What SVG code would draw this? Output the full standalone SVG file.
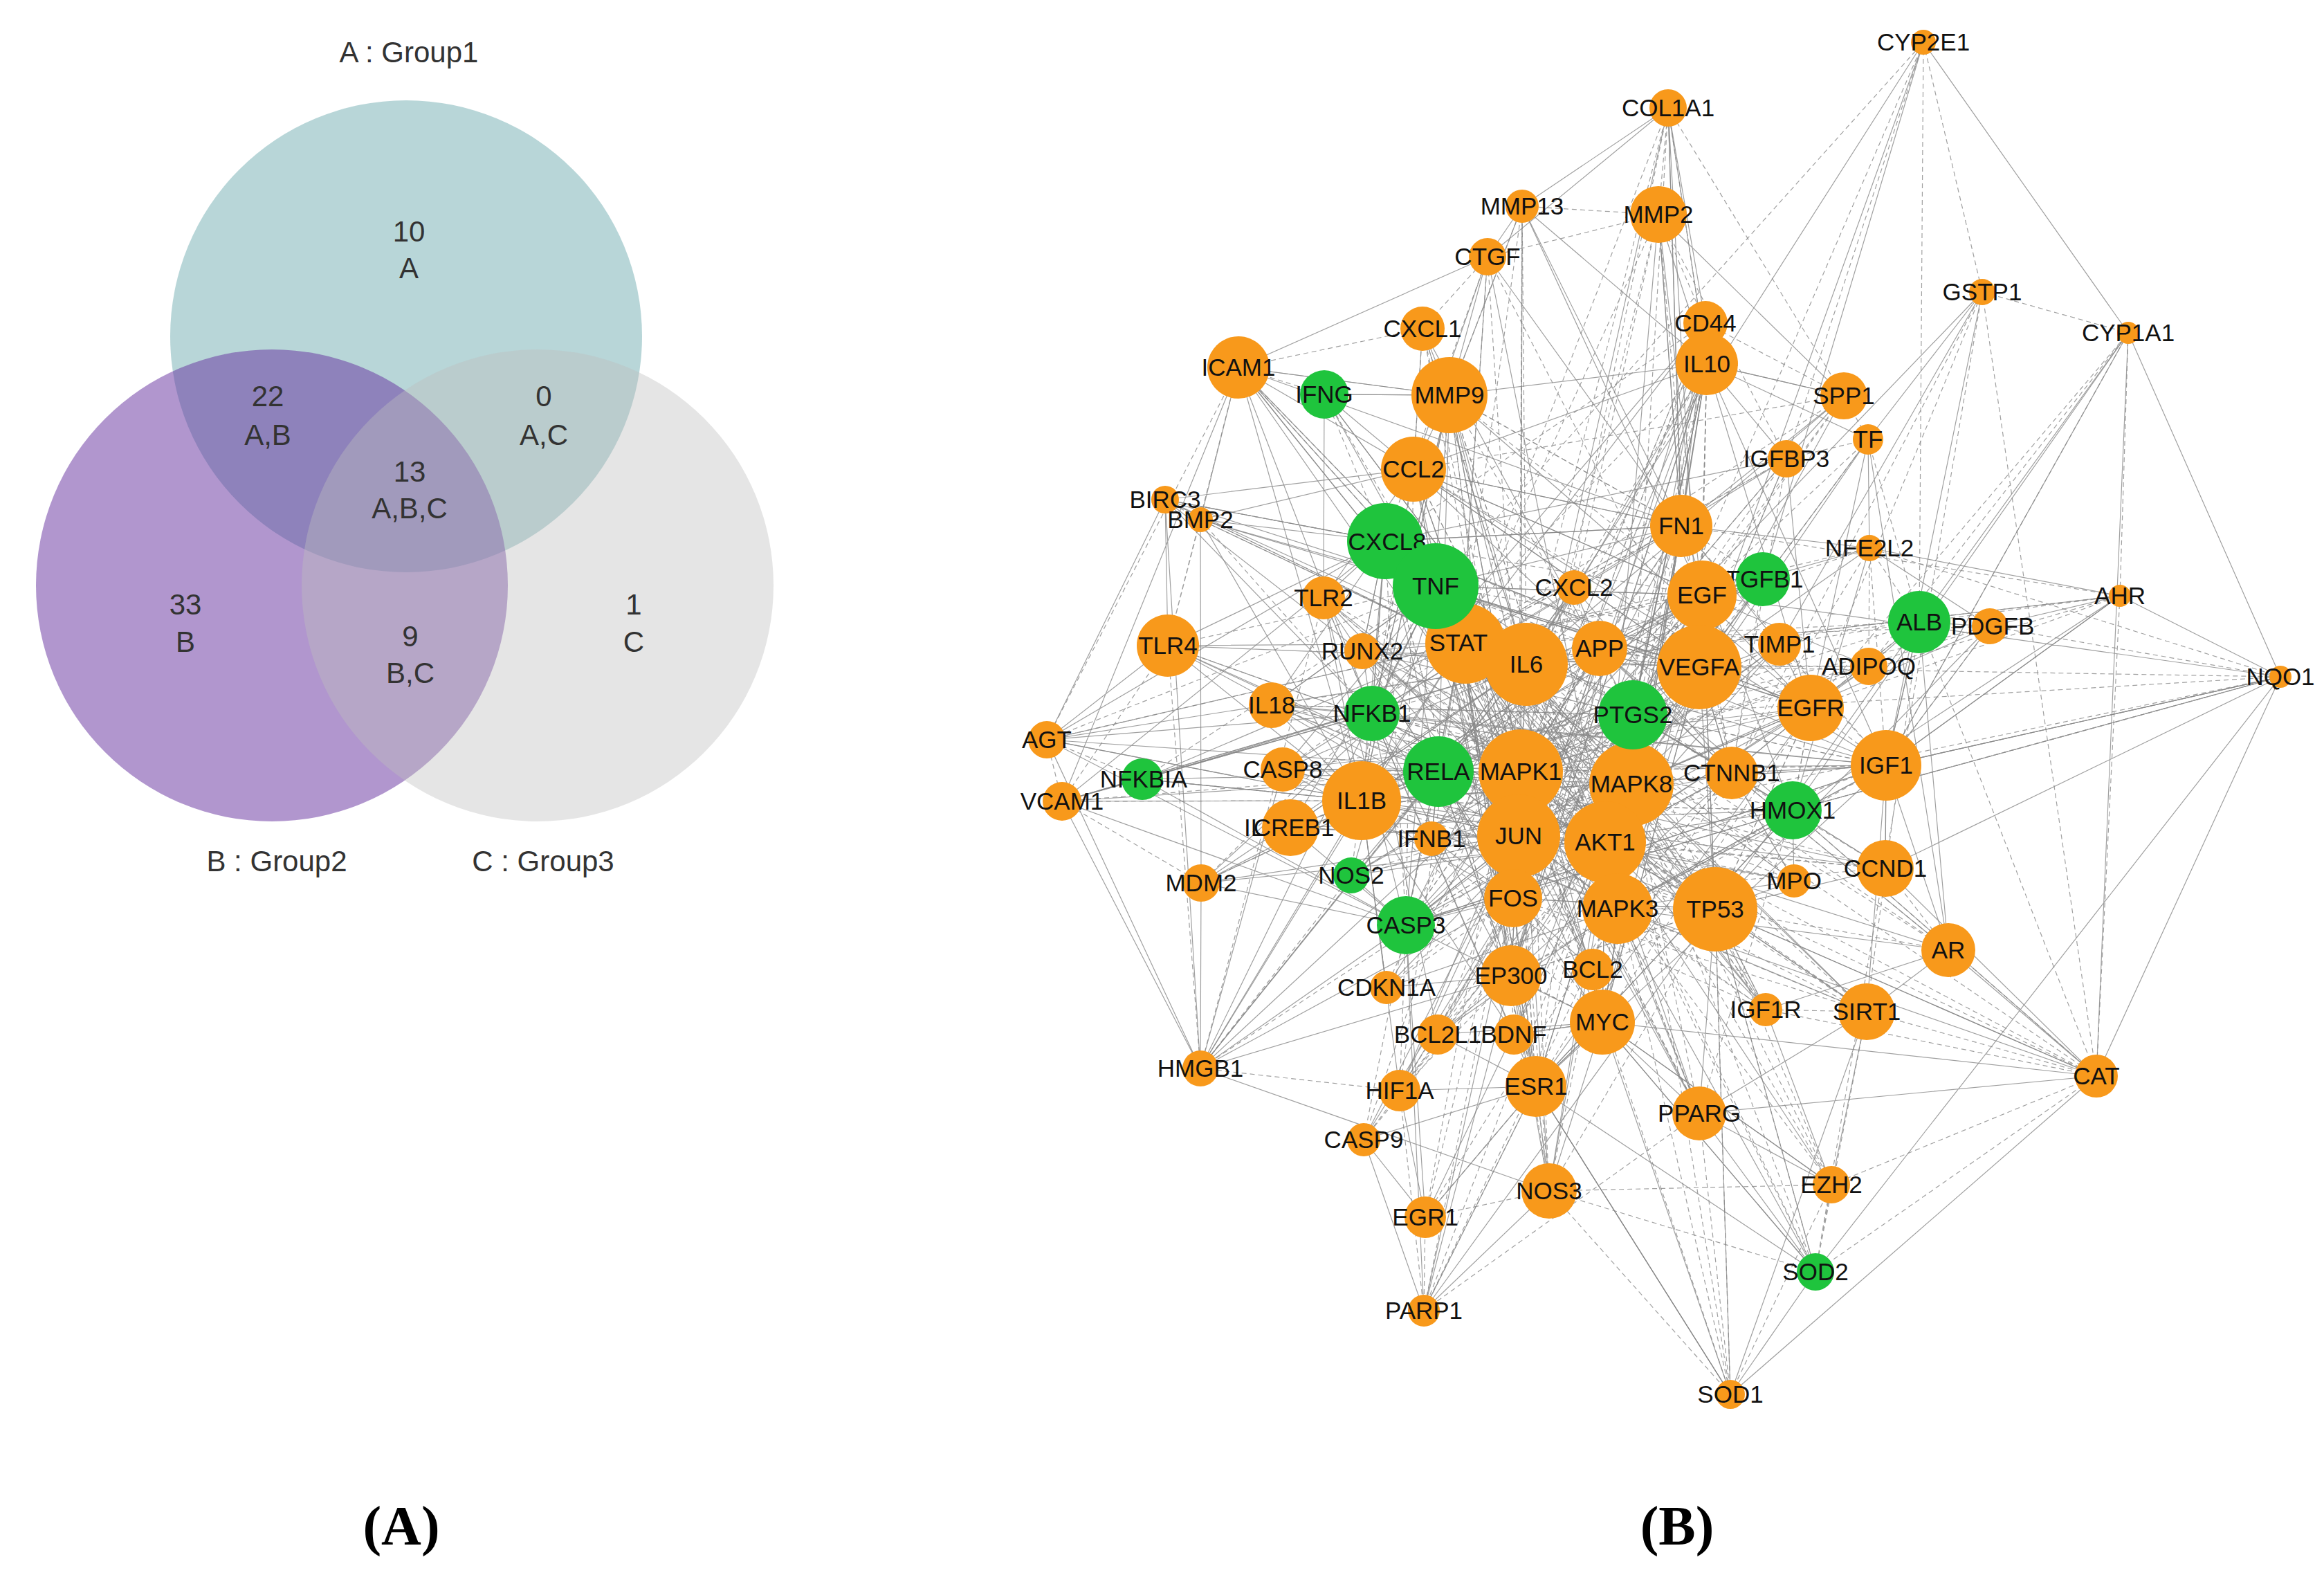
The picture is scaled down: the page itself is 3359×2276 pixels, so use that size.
<svg xmlns="http://www.w3.org/2000/svg" width="3359" height="2276" viewBox="0 0 3359 2276">
<style>
.vt{font-family:"Liberation Sans",Arial,sans-serif;font-size:42px;fill:#333;text-anchor:middle}
.cap{font-family:"Liberation Serif","Times New Roman",serif;font-size:80px;font-weight:bold;fill:#000;text-anchor:middle}
.e1{fill:none;stroke:#888;stroke-width:1.2;stroke-opacity:0.8}
.e2{fill:none;stroke:#888;stroke-width:1.2;stroke-opacity:0.8;stroke-dasharray:7 5}
.o{fill:#f8991b}
.g{fill:#1fc43d}
.lb{font-family:"Liberation Sans",Arial,sans-serif;font-size:35px;fill:#111;text-anchor:middle}
</style>
<rect width="3359" height="2276" fill="#fff"/>
<g id="venn">
<circle cx="587" cy="486" r="341" fill="#71adb1" fill-opacity="0.5"/>
<circle cx="393" cy="846" r="341" fill="#632d9d" fill-opacity="0.5"/>
<circle cx="777" cy="846" r="341" fill="#bebebe" fill-opacity="0.4"/>
<text class="vt" x="591" y="90">A : Group1</text>
<text class="vt" x="591" y="349">10</text><text class="vt" x="591" y="402">A</text>
<text class="vt" x="387" y="587">22</text><text class="vt" x="387" y="643">A,B</text>
<text class="vt" x="786" y="587">0</text><text class="vt" x="786" y="643">A,C</text>
<text class="vt" x="592" y="696">13</text><text class="vt" x="592" y="749">A,B,C</text>
<text class="vt" x="268" y="888">33</text><text class="vt" x="268" y="942">B</text>
<text class="vt" x="593" y="934">9</text><text class="vt" x="593" y="987">B,C</text>
<text class="vt" x="916" y="888">1</text><text class="vt" x="916" y="942">C</text>
<text class="vt" x="400" y="1259">B : Group2</text>
<text class="vt" x="785" y="1259">C : Group3</text>
</g>
<g id="edges">
<path class="e1" d="M2206,960 L2075,847 2320,1217 2195,1208 2198,1115 2358,1133 2338,1313 2479,1314 2456,964 2112,930 1968,1157 2002,782 2360,1033 2079,1115 2460,860 2316,1477 2032,1337 2095,571 2617,1023 2467,526 2187,1298 2043,678 2220,1570 2726,1106 1983,1031 2503,1117 2184,1410 2312,937 2430,760 2591,1171"/>
<path class="e1" d="M2206,960 L2320,1217 2198,1115 2338,1313 2456,964 1968,1157 2360,1033 2460,860 2032,1337 2617,1023 2187,1298 2220,1570 1983,1031 2184,1410 2430,760 2075,847 2195,1208 2358,1133 2479,1314 2112,930 2002,782 2079,1115 2316,1477 2095,571 2467,526 2043,678 2726,1106 2503,1117 2312,937 2591,1171"/>
<path class="e2" d="M2206,960 L2195,1208 2338,1313 2112,930 2360,1033 2316,1477 2617,1023 2043,678 1983,1031 2312,937 2075,847 2198,1115 2479,1314 1968,1157 2079,1115 2032,1337 2467,526 2220,1570 2503,1117 2430,760 2320,1217 2358,1133 2456,964 2002,782 2460,860 2095,571 2187,1298 2726,1106 2184,1410 2591,1171"/>
<path class="e1" d="M2206,960 L2198,1115 2456,964 2360,1033 2032,1337 2187,1298 1983,1031 2430,760 2195,1208 2479,1314 2002,782 2316,1477 2467,526 2726,1106 2312,937 2320,1217 2338,1313 1968,1157 2460,860 2617,1023 2220,1570 2184,1410 2075,847 2358,1133 2112,930 2079,1115 2095,571 2043,678 2503,1117 2591,1171"/>
<path class="e2" d="M2206,960 L2358,1133 1968,1157 2316,1477 2187,1298 2503,1117 2075,847 2338,1313 2002,782 2032,1337 2043,678 2184,1410 2320,1217 2479,1314 2360,1033 2095,571 2220,1570 2312,937 2195,1208 2456,964 2079,1115 2617,1023 2726,1106 2430,760 2198,1115 2112,930 2460,860 2467,526 1983,1031 2591,1171"/>
<path class="e1" d="M2206,960 L2479,1314 2460,860 2043,678 2430,760 2358,1133 2360,1033 2467,526 2184,1410 2195,1208 1968,1157 2095,571 1983,1031 2075,847 2456,964 2316,1477 2220,1570 2591,1171 2338,1313 2079,1115 2187,1298 2312,937 2198,1115 2002,782 2617,1023 2503,1117 2320,1217 2112,930 2032,1337 2726,1106"/>
<path class="e2" d="M2206,960 L2002,782 2220,1570 2195,1208 2460,860 2503,1117 2338,1313 2095,571 2430,760 2112,930 2187,1298 2075,847 2360,1033 2726,1106 2198,1115 2316,1477 2184,1410 2479,1314 2617,1023 2591,1171 1968,1157 2043,678 2320,1217 2079,1115 1983,1031 2358,1133 2032,1337 2312,937 2456,964 2467,526"/>
<path class="e1" d="M2206,960 L2079,1115 2184,1410 2112,930 2220,1570 2358,1133 2617,1023 2075,847 2460,860 2312,937 1968,1157 2726,1106 2338,1313 2467,526 2320,1217 2316,1477 2430,760 2002,782 1983,1031 2479,1314 2187,1298 2195,1208 2032,1337 2591,1171 2360,1033 2503,1117 2456,964 2043,678 2198,1115 2095,571"/>
<path class="e1" d="M2206,960 L2095,571 2198,1115 2043,678 2456,964 2503,1117 2360,1033 2591,1171 2032,1337 2195,1208 2187,1298 2479,1314 1983,1031 2002,782 2430,760 2316,1477 2320,1217 2467,526 2338,1313 2726,1106 1968,1157 2312,937 2460,860 2075,847 2617,1023 2358,1133 2220,1570 2112,930 2184,1410 2079,1115"/>
<path class="e2" d="M2206,960 L2467,526 2456,964 2312,937 2032,1337 2358,1133 1983,1031 2079,1115 2320,1217 2043,678 1968,1157 2591,1171 2617,1023 2479,1314 2184,1410 2316,1477 2198,1115 2726,1106 2360,1033 2075,847 2187,1298 2112,930 2430,760 2095,571 2338,1313 2503,1117 2460,860 2195,1208 2220,1570 2002,782"/>
<path class="e1" d="M2206,960 L2726,1106 2032,1337 2112,930 2320,1217 2503,1117 2617,1023 2002,782 2198,1115 2312,937 2187,1298 2079,1115 2338,1313 2591,1171 2220,1570 2316,1477 2456,964 2075,847 1983,1031 2095,571 1968,1157 2195,1208 2184,1410 2467,526 2360,1033 2358,1133 2430,760 2043,678 2460,860 2479,1314"/>
<path class="e1" d="M2206,960 L2780,61 2456,964 2411,156 2198,1115 2200,298 2460,860 2397,310 2320,1217 2150,371 2112,930 2465,467 2360,1033 2056,475 2206,960 2665,572 2358,1133 2700,635 2617,1023 2582,663 2198,1115 2865,422 2726,1106 3076,481 2591,1171 2702,792 2456,964 2548,837 2206,960 3064,861 2726,1106 2774,899 2479,1314 2876,905 2358,1133 2572,931 2320,1217 2701,963 2460,860 3296,978 2726,1106 2725,1255 2479,1314 2593,1273 2338,1313 2816,1373 2320,1217 2552,1459 2358,1133 2698,1462 2479,1314 3030,1555 2338,1313 2456,1609 2320,1217 2647,1712 2316,1477 2624,1838 2479,1314 2501,2015 2220,1570 2239,1721 2320,1217 2060,1759 2032,1337 2058,1894 2187,1298 1971,1647 2195,1208 2023,1576 1968,1157 2188,1495 2316,1477 2078,1495 2338,1313 2004,1427 2198,1115 2302,1401 2195,1208 2069,1212 2079,1115 2275,849 2206,960 1735,1544 1968,1157 1736,1276 2079,1115 1953,1265 2075,847 1865,1196 2206,960 1535,1158 1983,1031 1651,1126 1968,1157 1513,1069 2206,960 1854,1112 2075,847 1838,1019 2198,1115 1969,941 2112,930 1688,933 2079,1115 1913,864 1968,1157 1735,751 2075,847 1684,722 2206,960 1914,570 2112,930 1790,531 2075,847"/>
<path class="e2" d="M2075,847 L2780,61 2360,1033 2411,156 2206,960 2200,298 2112,930 2397,310 2456,964 2150,371 2002,782 2465,467 2198,1115 2056,475 2043,678 2665,572 2460,860 2700,635 2456,964 2582,663 2503,1117 2865,422 2617,1023 3076,481 2726,1106 2702,792 2503,1117 2548,837 2430,760 3064,861 2617,1023 2774,899 2360,1033 2876,905 2726,1106 2572,931 2198,1115 2701,963 2456,964 3296,978 2591,1171 2725,1255 2320,1217 2593,1273 2503,1117 2816,1373 2479,1314 2552,1459 2338,1313 2698,1462 2320,1217 3030,1555 2591,1171 2456,1609 2358,1133 2647,1712 2479,1314 2624,1838 2320,1217 2501,2015 2479,1314 2239,1721 2195,1208 2060,1759 2220,1570 2058,1894 2320,1217 1971,1647 2032,1337 2023,1576 2184,1410 2188,1495 2195,1208 2078,1495 2187,1298 2004,1427 1968,1157 2302,1401 2479,1314 2069,1212 2206,960 2275,849 2358,1133 1735,1544 2079,1115 1736,1276 1983,1031 1953,1265 2195,1208 1865,1196 2079,1115 1535,1158 1968,1157 1651,1126 2075,847 1513,1069 2112,930 1854,1112 2079,1115 1838,1019 2206,960 1969,941 2075,847 1688,933 2198,1115 1913,864 1983,1031 1735,751 2112,930 1684,722 2002,782 1914,570 2075,847 1790,531 2206,960"/>
<path class="e1" d="M2043,678 L1790,531 2206,960 1914,570 2095,571 1790,531 2198,1115 1688,933 2320,1217 1684,722 2112,930 1735,751 2456,964 1688,933 2195,1208 1969,941 2360,1033 1838,1019 2320,1217 1854,1112 2198,1115 1651,1126 2112,930 1513,1069 2198,1115 1535,1158 2206,960 1865,1196 2320,1217 1736,1276 2195,1208 1953,1265 2198,1115 1735,1544 2075,847 1838,1019 2002,782 1688,933 1968,1157 1790,531 1983,1031 1913,864 2032,1337 1513,1069 2002,782 1535,1158 2032,1337 1651,1126 2206,960 1736,1276 2112,930 1735,1544 2187,1298 1854,1112 2358,1133 1969,941 2002,782 1684,722 1983,1031 1790,531 2112,930"/>
<path class="e2" d="M2195,1208 L2058,1894 2338,1313 2060,1759 2206,960 1971,1647 2358,1133 2023,1576 2112,930 2239,1721 2206,960 2647,1712 2198,1115 2501,2015 2358,1133 2624,1838 2206,960 2456,1609 2112,930 3030,1555 2198,1115 2698,1462 2195,1208 2552,1459 2206,960 2816,1373 2112,930 2593,1273 2198,1115 2725,1255 2195,1208 3296,978 2360,1033 2701,963 2206,960 2774,899 2112,930 2876,905 2198,1115 2572,931 2195,1208 2548,837 2112,930 2702,792 2206,960 3064,861 2198,1115 2465,467 2195,1208 2665,572 2112,930 2582,663 2198,1115 2397,310 2195,1208 2411,156 2112,930 2150,371 2198,1115 2200,298 2195,1208 2056,475 2206,960"/>
<path class="e1" d="M2467,526 L2465,467 2430,760 2397,310 2467,526 2411,156 2430,760 2665,572 2467,526 2700,635 2456,964 2582,663 2467,526 2200,298 2095,571 2150,371 2043,678 2056,475 2095,571 1914,570 2043,678 1735,751 2002,782 1684,722 2043,678 1913,864 2002,782 1969,941 1983,1031 1838,1019 1968,1157 1854,1112 1983,1031 1651,1126 1968,1157 1535,1158 1983,1031 1513,1069 1968,1157 1865,1196 2032,1337 1953,1265 2032,1337 1736,1276 2032,1337 1735,1544 2184,1410 2004,1427 2184,1410 2078,1495 2220,1570 2023,1576 2220,1570 1971,1647 2220,1570 2060,1759 2220,1570 2058,1894 2184,1410 2239,1721 2316,1477 2188,1495 2316,1477 2302,1401 2187,1298 2069,1212 2079,1115 2275,849 2312,937 2548,837 2460,860 2702,792 2430,760 2572,931 2617,1023 2701,963 2617,1023 2774,899 2726,1106 2876,905 2726,1106 3064,861 2591,1171 3296,978 2726,1106 2725,1255 2591,1171 2593,1273 2503,1117 2816,1373 2726,1106 2698,1462 2479,1314 2552,1459 2479,1314 2456,1609 2316,1477 2647,1712 2316,1477 2624,1838 2220,1570 2501,2015 2316,1477 3030,1555 2479,1314"/>
<path class="e1" d="M2312,937 L1968,1157 2004,1427 2456,964 1969,941 2479,1314 1913,864 2338,1313 1838,1019 2726,1106 1854,1112 2617,1023 1865,1196 2591,1171 1953,1265 2360,1033 2188,1495 1983,1031 2078,1495 2460,860 2023,1576 2467,526 2069,1212 2503,1117 2275,849 2032,1337 2572,931 2079,1115 2725,1255 1968,1157 2593,1273 2112,930 2302,1401 2002,782 2582,663 1983,1031 2465,467 2184,1410 2548,837 1968,1157 2698,1462 2075,847 2552,1459 2002,782 2456,1609 2198,1115 2239,1721 2360,1033"/>
<path class="e2" d="M2275,849 L2198,1115 2312,937 2079,1115 2069,1212 2358,1133 2302,1401 2075,847 2572,931 2195,1208 2593,1273 2206,960 2004,1427 2358,1133 2188,1495 2456,964 2078,1495 2320,1217 2023,1576 2360,1033 2725,1255 2187,1298 2548,837 2112,930 2582,663 2195,1208 2465,467 2358,1133 1953,1265 2456,964 1865,1196 2320,1217 1854,1112 2360,1033 1838,1019 2358,1133 1913,864 2320,1217 1969,941 2187,1298 2552,1459 2206,960 2456,1609 2112,930 2698,1462 2187,1298 2239,1721 2358,1133"/>
<path class="e2" d="M2780,61L2865,422 M2780,61L2774,899 M2780,61L2582,663 M2865,422L3076,481 M2865,422L3030,1555 M2865,422L2624,1838 M3076,481L3064,861 M3076,481L2701,963 M3064,861L2774,899 M3064,861L3030,1555 M3296,978L2876,905 M3296,978L2591,1171 M3296,978L2702,792 M3030,1555L2698,1462 M3030,1555L2552,1459 M3030,1555L2624,1838 M3030,1555L2647,1712 M3030,1555L2774,899 M2501,2015L2456,1609 M2501,2015L2239,1721 M2501,2015L2647,1712 M2624,1838L2647,1712 M2624,1838L2698,1462 M2624,1838L2239,1721 M2647,1712L2239,1721 M2058,1894L2060,1759 M2058,1894L2023,1576 M2058,1894L2456,1609 M2060,1759L2239,1721 M1735,1544L1688,933 M1735,1544L1913,864 M1735,1544L1953,1265 M1735,1544L2023,1576 M2411,156L2397,310 M2411,156L2665,572 M2411,156L2467,526 M2200,298L2397,310 M2200,298L2095,571 M2150,371L2056,475 M2150,371L2397,310 M2397,310L2465,467 M2397,310L2582,663 M1790,531L1914,570 M1790,531L1688,933 M1790,531L2056,475 M1513,1069L1535,1158 M1513,1069L1651,1126 M1513,1069L1790,531 M1535,1158L1736,1276 M1535,1158L1688,933 M1684,722L1735,751 M1735,751L1688,933 M2665,572L2700,635 M2665,572L2465,467 M2700,635L2582,663 M2700,635L2774,899 M2702,792L2774,899 M2702,792L2701,963 M2774,899L2572,931 M2774,899L2698,1462 M2816,1373L2725,1255 M2698,1462L2552,1459"/>
<path class="e1" d="M2780,61L3076,481 M2780,61L2548,837 M2865,422L2700,635 M2865,422L2572,931 M3076,481L3296,978 M3076,481L3030,1555 M3076,481L2774,899 M3064,861L3296,978 M3064,861L2876,905 M3064,861L2702,792 M3296,978L3030,1555 M3296,978L2726,1106 M3296,978L2725,1255 M3296,978L2624,1838 M3030,1555L2816,1373 M3030,1555L2456,1609 M3030,1555L2501,2015 M3030,1555L2591,1171 M3030,1555L2725,1255 M2501,2015L2624,1838 M2501,2015L2698,1462 M2501,2015L2220,1570 M2624,1838L2456,1609 M2624,1838L2075,847 M2647,1712L2456,1609 M2647,1712L2698,1462 M2647,1712L2552,1459 M2058,1894L1971,1647 M2058,1894L2479,1314 M2058,1894L2239,1721 M2060,1759L1971,1647 M2060,1759L2023,1576 M1735,1544L2239,1721 M1735,1544L1736,1276 M1735,1544L2079,1115 M1735,1544L1854,1112 M2411,156L2150,371 M2411,156L2465,467 M2411,156L2200,298 M2411,156L2430,760 M2200,298L2150,371 M2200,298L2430,760 M2150,371L1790,531 M2150,371L2430,760 M2397,310L2665,572 M2397,310L2430,760 M1790,531L1535,1158 M1790,531L1735,751 M1790,531L2095,571 M1790,531L2430,760 M1513,1069L1688,933 M1513,1069L1684,722 M1513,1069L1735,1544 M1535,1158L1651,1126 M1535,1158L1735,1544 M1684,722L1688,933 M1684,722L1735,1544 M1735,751L1736,1276 M2665,572L2582,663 M2665,572L2467,526 M2700,635L2702,792 M2700,635L2816,1373 M2702,792L2876,905 M2774,899L2876,905 M2774,899L2701,963 M2774,899L2816,1373 M2816,1373L2698,1462 M2816,1373L2552,1459 M2698,1462L2456,1609 M1914,570L1913,864"/>
</g>
<g id="nodes">
<g id="n-CYP2E1"><circle class="o" cx="2780" cy="61" r="18"/><text class="lb" x="2780" y="73">CYP2E1</text></g>
<g id="n-COL1A1"><circle class="o" cx="2411" cy="156" r="27"/><text class="lb" x="2411" y="168">COL1A1</text></g>
<g id="n-MMP13"><circle class="o" cx="2200" cy="298" r="24"/><text class="lb" x="2200" y="310">MMP13</text></g>
<g id="n-MMP2"><circle class="o" cx="2397" cy="310" r="41"/><text class="lb" x="2397" y="322">MMP2</text></g>
<g id="n-CTGF"><circle class="o" cx="2150" cy="371" r="27"/><text class="lb" x="2150" y="383">CTGF</text></g>
<g id="n-GSTP1"><circle class="o" cx="2865" cy="422" r="19"/><text class="lb" x="2865" y="434">GSTP1</text></g>
<g id="n-CYP1A1"><circle class="o" cx="3076" cy="481" r="16"/><text class="lb" x="3076" y="493">CYP1A1</text></g>
<g id="n-CD44"><circle class="o" cx="2465" cy="467" r="32"/><text class="lb" x="2465" y="479">CD44</text></g>
<g id="n-CXCL1"><circle class="o" cx="2056" cy="475" r="32"/><text class="lb" x="2056" y="487">CXCL1</text></g>
<g id="n-IL10"><circle class="o" cx="2467" cy="526" r="45"/><text class="lb" x="2467" y="538">IL10</text></g>
<g id="n-ICAM1"><circle class="o" cx="1790" cy="531" r="45"/><text class="lb" x="1790" y="543">ICAM1</text></g>
<g id="n-IFNG"><circle class="g" cx="1914" cy="570" r="35"/><text class="lb" x="1914" y="582">IFNG</text></g>
<g id="n-MMP9"><circle class="o" cx="2095" cy="571" r="55"/><text class="lb" x="2095" y="583">MMP9</text></g>
<g id="n-SPP1"><circle class="o" cx="2665" cy="572" r="34"/><text class="lb" x="2665" y="584">SPP1</text></g>
<g id="n-TF"><circle class="o" cx="2700" cy="635" r="22"/><text class="lb" x="2700" y="647">TF</text></g>
<g id="n-IGFBP3"><circle class="o" cx="2582" cy="663" r="27"/><text class="lb" x="2582" y="675">IGFBP3</text></g>
<g id="n-CCL2"><circle class="o" cx="2043" cy="678" r="47"/><text class="lb" x="2043" y="690">CCL2</text></g>
<g id="n-BIRC3"><circle class="o" cx="1684" cy="722" r="20"/><text class="lb" x="1684" y="734">BIRC3</text></g>
<g id="n-BMP2"><circle class="o" cx="1735" cy="751" r="18"/><text class="lb" x="1735" y="763">BMP2</text></g>
<g id="n-FN1"><circle class="o" cx="2430" cy="760" r="45"/><text class="lb" x="2430" y="772">FN1</text></g>
<g id="n-NFE2L2"><circle class="o" cx="2702" cy="792" r="19"/><text class="lb" x="2702" y="804">NFE2L2</text></g>
<g id="n-CXCL8"><circle class="g" cx="2002" cy="782" r="55"/><text class="lb" x="2005" y="795">CXCL8</text></g>
<g id="n-STAT"><circle class="o" cx="2118" cy="930" r="58"/><text class="lb" x="2108" y="941">STAT</text></g>
<g id="n-TNF"><circle class="g" cx="2075" cy="847" r="62"/><text class="lb" x="2075" y="859">TNF</text></g>
<g id="n-TGFB1"><circle class="g" cx="2548" cy="837" r="39"/><text class="lb" x="2550" y="849">TGFB1</text></g>
<g id="n-CXCL2"><circle class="o" cx="2275" cy="849" r="25"/><text class="lb" x="2275" y="861">CXCL2</text></g>
<g id="n-EGF"><circle class="o" cx="2460" cy="860" r="50"/><text class="lb" x="2460" y="872">EGF</text></g>
<g id="n-AHR"><circle class="o" cx="3064" cy="861" r="16"/><text class="lb" x="3064" y="873">AHR</text></g>
<g id="n-TLR2"><circle class="o" cx="1913" cy="864" r="31"/><text class="lb" x="1913" y="876">TLR2</text></g>
<g id="n-ALB"><circle class="g" cx="2774" cy="899" r="45"/><text class="lb" x="2774" y="911">ALB</text></g>
<g id="n-PDGFB"><circle class="o" cx="2876" cy="905" r="26"/><text class="lb" x="2880" y="917">PDGFB</text></g>
<g id="n-TLR4"><circle class="o" cx="1688" cy="933" r="45"/><text class="lb" x="1688" y="945">TLR4</text></g>
<g id="n-RUNX2"><circle class="o" cx="1969" cy="941" r="26"/><text class="lb" x="1969" y="953">RUNX2</text></g>
<g id="n-TIMP1"><circle class="o" cx="2572" cy="931" r="31"/><text class="lb" x="2572" y="943">TIMP1</text></g>
<g id="n-APP"><circle class="o" cx="2312" cy="937" r="40"/><text class="lb" x="2312" y="949">APP</text></g>
<g id="n-IL6"><circle class="o" cx="2206" cy="960" r="60"/><text class="lb" x="2206" y="972">IL6</text></g>
<g id="n-VEGFA"><circle class="o" cx="2456" cy="964" r="61"/><text class="lb" x="2456" y="976">VEGFA</text></g>
<g id="n-ADIPOQ"><circle class="o" cx="2701" cy="963" r="27"/><text class="lb" x="2701" y="975">ADIPOQ</text></g>
<g id="n-NQO1"><circle class="o" cx="3296" cy="978" r="16"/><text class="lb" x="3296" y="990">NQO1</text></g>
<g id="n-IL18"><circle class="o" cx="1838" cy="1019" r="33"/><text class="lb" x="1838" y="1031">IL18</text></g>
<g id="n-EGFR"><circle class="o" cx="2617" cy="1023" r="48"/><text class="lb" x="2617" y="1035">EGFR</text></g>
<g id="n-NFKB1"><circle class="g" cx="1983" cy="1031" r="40"/><text class="lb" x="1983" y="1043">NFKB1</text></g>
<g id="n-AGT"><circle class="o" cx="1513" cy="1069" r="27"/><text class="lb" x="1513" y="1081">AGT</text></g>
<g id="n-IGF1"><circle class="o" cx="2726" cy="1106" r="51"/><text class="lb" x="2726" y="1118">IGF1</text></g>
<g id="n-CASP8"><circle class="o" cx="1854" cy="1112" r="32"/><text class="lb" x="1854" y="1124">CASP8</text></g>
<g id="n-RELA"><circle class="g" cx="2079" cy="1115" r="51"/><text class="lb" x="2079" y="1127">RELA</text></g>
<g id="n-MAPK1"><circle class="o" cx="2198" cy="1115" r="61"/><text class="lb" x="2198" y="1127">MAPK1</text></g>
<g id="n-CTNNB1"><circle class="o" cx="2503" cy="1117" r="38"/><text class="lb" x="2503" y="1129">CTNNB1</text></g>
<g id="n-NFKBIA"><circle class="g" cx="1651" cy="1126" r="30"/><text class="lb" x="1653" y="1138">NFKBIA</text></g>
<g id="n-MAPK8"><circle class="o" cx="2358" cy="1133" r="61"/><text class="lb" x="2358" y="1145">MAPK8</text></g>
<g id="n-PTGS2"><circle class="g" cx="2360" cy="1033" r="50"/><text class="lb" x="2360" y="1045">PTGS2</text></g>
<g id="n-VCAM1"><circle class="o" cx="1535" cy="1158" r="28"/><text class="lb" x="1535" y="1170">VCAM1</text></g>
<g id="n-IL1B"><circle class="o" cx="1968" cy="1157" r="57"/><text class="lb" x="1968" y="1169">IL1B</text></g>
<g id="n-HMOX1"><circle class="g" cx="2591" cy="1171" r="42"/><text class="lb" x="2591" y="1183">HMOX1</text></g>
<g id="label-IL"><text class="lb" x="1798" y="1208" style="text-anchor:start">IL</text></g>
<g id="n-CREB1"><circle class="o" cx="1865" cy="1196" r="41"/><text class="lb" x="1870" y="1208">CREB1</text></g>
<g id="n-IFNB1"><circle class="o" cx="2069" cy="1212" r="25"/><text class="lb" x="2069" y="1224">IFNB1</text></g>
<g id="n-JUN"><circle class="o" cx="2195" cy="1208" r="60"/><text class="lb" x="2195" y="1220">JUN</text></g>
<g id="n-AKT1"><circle class="o" cx="2320" cy="1217" r="59"/><text class="lb" x="2320" y="1229">AKT1</text></g>
<g id="n-CCND1"><circle class="o" cx="2725" cy="1255" r="41"/><text class="lb" x="2725" y="1267">CCND1</text></g>
<g id="n-NOS2"><circle class="g" cx="1953" cy="1265" r="26"/><text class="lb" x="1953" y="1277">NOS2</text></g>
<g id="n-MDM2"><circle class="o" cx="1736" cy="1276" r="27"/><text class="lb" x="1736" y="1288">MDM2</text></g>
<g id="n-MPO"><circle class="o" cx="2593" cy="1273" r="24"/><text class="lb" x="2593" y="1285">MPO</text></g>
<g id="n-FOS"><circle class="o" cx="2187" cy="1298" r="42"/><text class="lb" x="2187" y="1310">FOS</text></g>
<g id="n-MAPK3"><circle class="o" cx="2338" cy="1313" r="51"/><text class="lb" x="2338" y="1325">MAPK3</text></g>
<g id="n-TP53"><circle class="o" cx="2479" cy="1314" r="61"/><text class="lb" x="2479" y="1326">TP53</text></g>
<g id="n-CASP3"><circle class="g" cx="2032" cy="1337" r="42"/><text class="lb" x="2032" y="1349">CASP3</text></g>
<g id="n-AR"><circle class="o" cx="2816" cy="1373" r="39"/><text class="lb" x="2816" y="1385">AR</text></g>
<g id="n-BCL2"><circle class="o" cx="2302" cy="1401" r="30"/><text class="lb" x="2302" y="1413">BCL2</text></g>
<g id="n-EP300"><circle class="o" cx="2184" cy="1410" r="44"/><text class="lb" x="2184" y="1422">EP300</text></g>
<g id="n-CDKN1A"><circle class="o" cx="2004" cy="1427" r="24"/><text class="lb" x="2004" y="1439">CDKN1A</text></g>
<g id="n-IGF1R"><circle class="o" cx="2552" cy="1459" r="24"/><text class="lb" x="2552" y="1471">IGF1R</text></g>
<g id="n-SIRT1"><circle class="o" cx="2698" cy="1462" r="41"/><text class="lb" x="2698" y="1474">SIRT1</text></g>
<g id="n-MYC"><circle class="o" cx="2316" cy="1477" r="47"/><text class="lb" x="2316" y="1489">MYC</text></g>
<g id="n-BCL2L1"><circle class="o" cx="2078" cy="1495" r="29"/><text class="lb" x="2078" y="1507">BCL2L1</text></g>
<g id="n-BDNF"><circle class="o" cx="2188" cy="1495" r="29"/><text class="lb" x="2188" y="1507">BDNF</text></g>
<g id="n-HMGB1"><circle class="o" cx="1735" cy="1544" r="26"/><text class="lb" x="1735" y="1556">HMGB1</text></g>
<g id="n-CAT"><circle class="o" cx="3030" cy="1555" r="31"/><text class="lb" x="3030" y="1567">CAT</text></g>
<g id="n-HIF1A"><circle class="o" cx="2023" cy="1576" r="30"/><text class="lb" x="2023" y="1588">HIF1A</text></g>
<g id="n-ESR1"><circle class="o" cx="2220" cy="1570" r="44"/><text class="lb" x="2220" y="1582">ESR1</text></g>
<g id="n-PPARG"><circle class="o" cx="2456" cy="1609" r="39"/><text class="lb" x="2456" y="1621">PPARG</text></g>
<g id="n-CASP9"><circle class="o" cx="1971" cy="1647" r="24"/><text class="lb" x="1971" y="1659">CASP9</text></g>
<g id="n-EZH2"><circle class="o" cx="2647" cy="1712" r="27"/><text class="lb" x="2647" y="1724">EZH2</text></g>
<g id="n-NOS3"><circle class="o" cx="2239" cy="1721" r="40"/><text class="lb" x="2239" y="1733">NOS3</text></g>
<g id="n-EGR1"><circle class="o" cx="2060" cy="1759" r="30"/><text class="lb" x="2060" y="1771">EGR1</text></g>
<g id="n-SOD2"><circle class="g" cx="2624" cy="1838" r="27"/><text class="lb" x="2624" y="1850">SOD2</text></g>
<g id="n-PARP1"><circle class="o" cx="2058" cy="1894" r="23"/><text class="lb" x="2058" y="1906">PARP1</text></g>
<g id="n-SOD1"><circle class="o" cx="2501" cy="2015" r="21"/><text class="lb" x="2501" y="2027">SOD1</text></g>
</g>
<g id="captions">
<text class="cap" x="580" y="2232">(A)</text>
<text class="cap" x="2424" y="2232">(B)</text>
</g>
</svg>
